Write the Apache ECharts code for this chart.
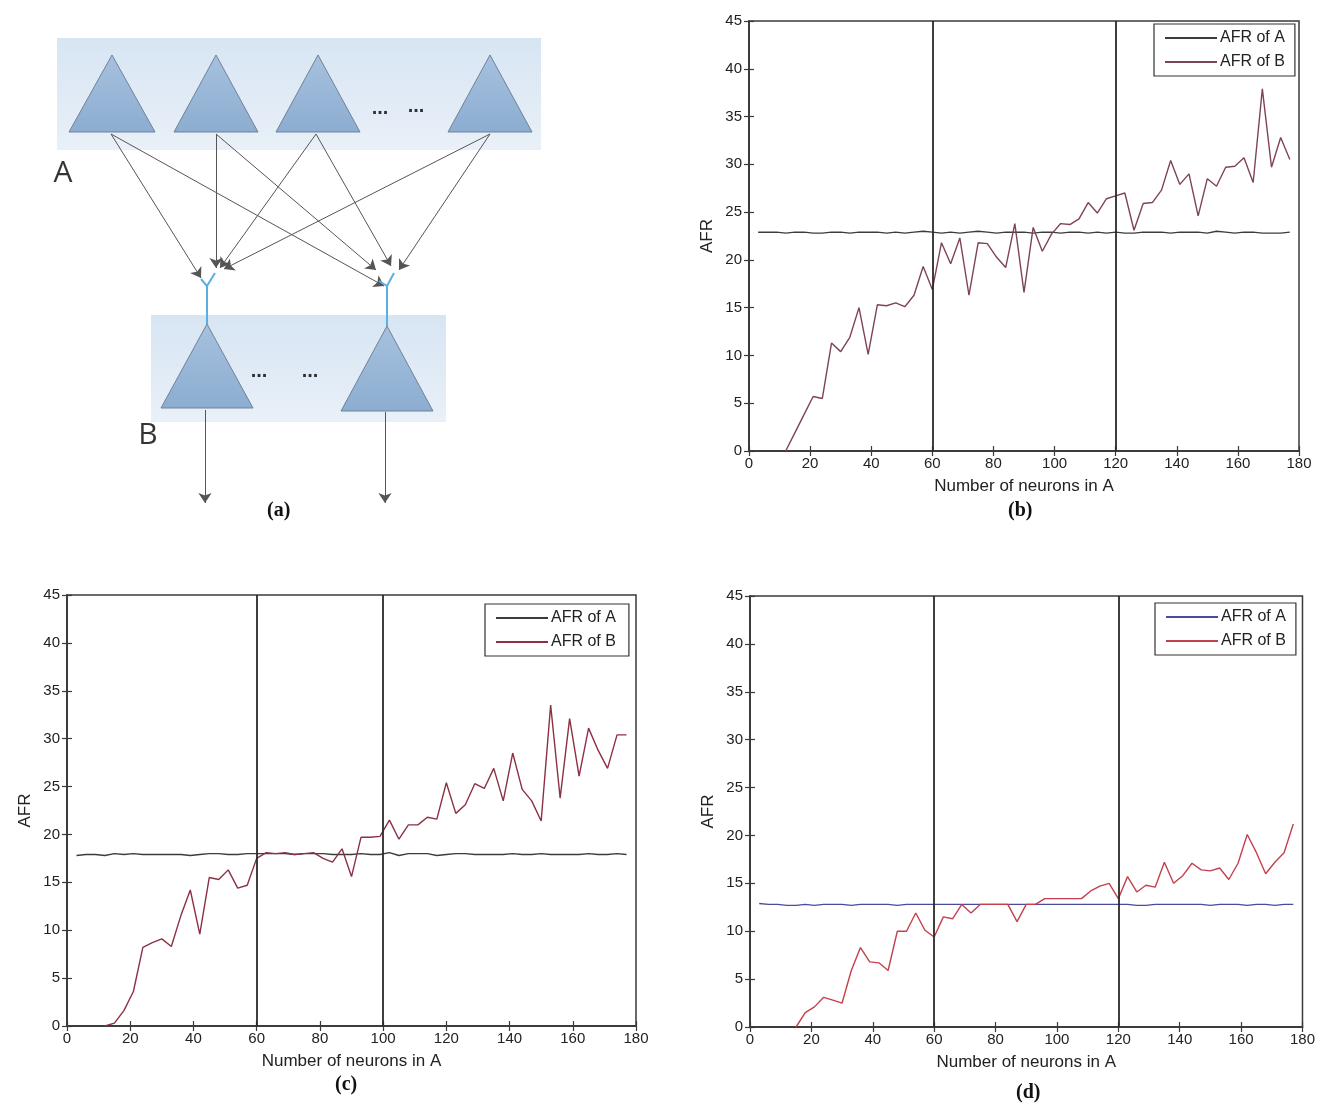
<!DOCTYPE html>
<html>
<head>
<meta charset="utf-8">
<title>AFR of layers A and B</title>
<script src="https://cdn.jsdelivr.net/npm/echarts@6/dist/echarts.min.js"></script>
<style>
  html, body { margin: 0; padding: 0; background: #ffffff; }
  #chart { width: 1318px; height: 1111px; }
</style>
</head>
<body>
<div id="chart"></div>
<script>
// Number of neurons in layer A (shared x values of panels b, c, d)
const neuronsA = [3,6,9,12,15,18,21,24,27,30,33,36,39,42,45,48,51,54,57,60,
  63,66,69,72,75,78,81,84,87,90,93,96,99,102,105,108,111,114,117,120,
  123,126,129,132,135,138,141,144,147,150,153,156,159,162,165,168,171,174,177];

// Panel (b)
const afrA_b = [22.9,22.9,22.9,22.8,22.9,22.9,22.8,22.8,22.9,22.9,22.8,22.9,22.9,22.9,22.8,22.9,22.8,22.9,23.0,22.9,
  22.8,22.9,22.8,22.9,23.0,22.9,22.8,22.9,22.9,22.9,22.8,22.9,22.9,22.8,22.9,22.9,22.8,22.9,22.8,22.9,
  22.8,22.8,22.9,22.9,22.9,22.8,22.9,22.9,22.9,22.8,23.0,22.9,22.8,22.9,22.9,22.8,22.8,22.8,22.9];
const afrB_b = [null,null,null,0,1.9,3.8,5.7,5.5,11.3,10.4,11.9,15.0,10.1,15.3,15.2,15.5,15.1,16.3,19.3,16.9,
  21.8,19.6,22.3,16.3,21.8,21.7,20.3,19.2,23.8,16.6,23.4,20.9,22.7,23.8,23.7,24.3,26.0,24.9,26.4,26.7,
  27.0,23.1,25.9,26.0,27.3,30.4,27.9,29.0,24.6,28.5,27.7,29.7,29.8,30.7,28.1,37.9,29.7,32.8,30.5];
const marks_b = [60, 120];

// Panel (c)
const afrA_c = [17.8,17.9,17.9,17.8,18.0,17.9,18.0,17.9,17.9,17.9,17.9,17.9,17.8,17.9,18.0,18.0,17.9,17.9,18.0,18.0,
  18.0,18.0,18.0,17.9,18.0,18.0,18.0,17.9,17.9,17.9,18.0,17.9,17.9,18.1,17.8,18.0,18.0,18.0,17.8,17.9,
  18.0,18.0,17.9,17.9,17.9,17.9,18.0,17.9,17.9,18.0,17.9,17.9,17.9,17.9,18.0,17.9,17.9,18.0,17.9];
const afrB_c = [null,null,null,0,0.3,1.6,3.6,8.2,8.7,9.1,8.3,11.5,14.2,9.6,15.5,15.3,16.3,14.4,14.7,17.5,
  18.1,18.0,18.1,17.9,18.0,18.1,17.5,17.1,18.5,15.6,19.7,19.7,19.8,21.5,19.5,21.0,21.0,21.8,21.6,25.4,
  22.2,23.1,25.3,24.8,26.9,23.5,28.5,24.7,23.5,21.4,33.5,23.8,32.1,26.1,31.1,28.8,26.9,30.4,30.4];
const marks_c = [60, 100];

// Panel (d)
const afrA_d = [12.9,12.8,12.8,12.7,12.7,12.8,12.7,12.8,12.8,12.8,12.7,12.8,12.8,12.8,12.8,12.7,12.8,12.8,12.8,12.8,
  12.8,12.8,12.8,12.8,12.8,12.8,12.8,12.8,12.8,12.8,12.8,12.8,12.8,12.8,12.8,12.8,12.8,12.8,12.8,12.8,
  12.8,12.7,12.7,12.8,12.8,12.8,12.8,12.8,12.8,12.7,12.8,12.8,12.8,12.7,12.8,12.8,12.7,12.8,12.8];
const afrB_d = [null,null,null,null,0,1.5,2.1,3.1,2.8,2.5,5.9,8.3,6.8,6.7,5.9,10.0,10.0,11.9,10.1,9.4,
  11.5,11.3,12.8,11.9,12.8,12.8,12.8,12.8,11.0,12.8,12.8,13.4,13.4,13.4,13.4,13.4,14.2,14.7,15.0,13.4,
  15.7,14.1,14.8,14.6,17.2,15.0,15.8,17.1,16.4,16.3,16.6,15.4,17.1,20.1,18.2,16.0,17.2,18.2,21.2];
const marks_d = [60, 120];

// Axis ticks
const xTickStep = 20, xMax = 180;
const yTickStep = 5, yMax = 45;

// Network sketch of panel (a), in sketch units
const layerBoxes = [[57, 38, 541, 150], [151, 315, 446, 422]];
// [apex x, apex y, half base width, base y]
const neuronsTop = [[112, 55, 43, 132], [216, 55, 42, 132], [318, 55, 42, 132], [490, 55, 42, 132]];
const neuronsBottom = [[207, 324, 46, 408], [387, 326, 46, 411]];
const synapses = [
  [[111, 134], [201, 278]], [[111, 134], [384, 286]],
  [[216, 134], [216, 268]], [[216, 134], [376, 270]],
  [[316, 134], [220, 268]], [[316, 134], [391, 266]],
  [[490, 134], [224, 269]], [[490, 134], [399, 270]]
];
const outputs = [[[205, 410], [205, 503]], [[385, 412], [385, 503]]];
const dendrites = [
  [[207, 324], [207, 286], [201, 279]], [[207, 286], [215, 273]],
  [[387, 326], [387, 286], [379, 281]], [[387, 286], [394, 273]]
];
const ellipses = [[380, 108], [416, 106], [259, 371], [310, 371]];
const layerNames = [['A', 63, 173], ['B', 148, 435]];

const FONT = "'Liberation Sans', Arial, sans-serif";
const AXIS_COLOR = '#3a3a3a';

const plotGrids = [
  { left: 749, top: 21, width: 550, height: 430 },
  { left: 67, top: 595, width: 569, height: 431 },
  { left: 750, top: 596, width: 554, height: 431 }
];

const grids = [{ left: 0, top: 0, width: 600, height: 540, show: false }];
plotGrids.forEach(g => grids.push(Object.assign({
  show: true, borderColor: AXIS_COLOR, borderWidth: 1.5, backgroundColor: '#ffffff'
}, g)));

const xAxes = [{ gridIndex: 0, type: 'value', min: 0, max: 600, show: false }];
const yAxes = [{ gridIndex: 0, type: 'value', min: 0, max: 540, inverse: true, show: false }];

const tickStyle = { show: true, inside: true, length: 5, lineStyle: { color: AXIS_COLOR, width: 1.2 } };

[1, 2, 3].forEach(gi => {
  xAxes.push({
    gridIndex: gi, type: 'value', min: 0, max: xMax, interval: xTickStep, position: 'bottom',
    name: 'Number of neurons in A', nameLocation: 'middle', nameGap: 27,
    nameTextStyle: { fontFamily: FONT, fontSize: 17, color: '#222' },
    axisLine: { show: true, lineStyle: { color: AXIS_COLOR, width: 1.5 } },
    axisTick: tickStyle,
    axisLabel: { fontFamily: FONT, fontSize: 15, color: '#222', margin: 5 },
    splitLine: { show: false }
  });
  xAxes.push({
    gridIndex: gi, type: 'value', min: 0, max: xMax, interval: xTickStep, position: 'top',
    axisLine: { show: true, lineStyle: { color: AXIS_COLOR, width: 1.5 } },
    axisTick: tickStyle, axisLabel: { show: false }, splitLine: { show: false }
  });
  yAxes.push({
    gridIndex: gi, type: 'value', min: 0, max: yMax, interval: yTickStep, position: 'left',
    name: 'AFR', nameLocation: 'middle', nameGap: 33, nameRotate: 90,
    nameTextStyle: { fontFamily: FONT, fontSize: 17, color: '#222' },
    axisLine: { show: true, lineStyle: { color: AXIS_COLOR, width: 1.5 } },
    axisTick: tickStyle,
    axisLabel: { fontFamily: FONT, fontSize: 15, color: '#222', margin: 7 },
    splitLine: { show: false }
  });
  yAxes.push({
    gridIndex: gi, type: 'value', min: 0, max: yMax, interval: yTickStep, position: 'right',
    axisLine: { show: true, lineStyle: { color: AXIS_COLOR, width: 1.5 } },
    axisTick: tickStyle, axisLabel: { show: false }, splitLine: { show: false }
  });
});

const pair = vals => neuronsA.map((x, i) => [x, vals[i]]);

function curve(name, vals, axis, color, z) {
  return {
    type: 'line', name, data: pair(vals), xAxisIndex: axis, yAxisIndex: axis,
    symbol: 'none', showSymbol: false, connectNulls: false, z,
    lineStyle: { color, width: 1.4 }, itemStyle: { color }, silent: true
  };
}
function dividers(vals, axis) {
  return {
    type: 'line', data: [], xAxisIndex: axis, yAxisIndex: axis, silent: true,
    markLine: {
      silent: true, symbol: ['none', 'none'], label: { show: false }, animation: false,
      lineStyle: { color: '#2a2a2a', width: 1.8, type: 'solid' },
      data: vals.map(v => ({ xAxis: v }))
    }
  };
}

const panels = [
  { axis: 1, a: afrA_b, b: afrB_b, marks: marks_b, colA: '#3c3c3c', colB: '#7e4456' },
  { axis: 3, a: afrA_c, b: afrB_c, marks: marks_c, colA: '#3c3c3c', colB: '#8c3044' },
  { axis: 5, a: afrA_d, b: afrB_d, marks: marks_d, colA: '#4a4aa0', colB: '#c4404c' }
];

const series = [];

// ---- panel (a): the network sketch ----
series.push({
  type: 'custom', xAxisIndex: 0, yAxisIndex: 0, silent: true, z: 1,
  data: layerBoxes,
  renderItem(params, api) {
    const p0 = api.coord([api.value(0), api.value(1)]);
    const p1 = api.coord([api.value(2), api.value(3)]);
    return {
      type: 'rect',
      shape: { x: p0[0], y: p0[1], width: p1[0] - p0[0], height: p1[1] - p0[1] },
      style: {
        fill: new echarts.graphic.LinearGradient(0, 0, 0, 1, [
          { offset: 0, color: '#d7e5f3' }, { offset: 1, color: '#e9f0f8' }
        ])
      }
    };
  }
});
series.push({
  type: 'custom', xAxisIndex: 0, yAxisIndex: 0, silent: true, z: 3,
  data: neuronsTop.concat(neuronsBottom),
  renderItem(params, api) {
    const ax = api.value(0), ay = api.value(1), hw = api.value(2), by = api.value(3);
    const pts = [api.coord([ax, ay]), api.coord([ax - hw, by]), api.coord([ax + hw, by])];
    return {
      type: 'polygon', shape: { points: pts },
      style: {
        fill: new echarts.graphic.LinearGradient(0, 0, 0, 1, [
          { offset: 0, color: '#a6c1de' }, { offset: 1, color: '#8cadd1' }
        ]),
        stroke: '#6f8299', lineWidth: 1
      }
    };
  }
});
series.push({
  type: 'lines', coordinateSystem: 'cartesian2d', xAxisIndex: 0, yAxisIndex: 0,
  silent: true, z: 4, symbol: ['none', 'arrow'], symbolSize: 10,
  lineStyle: { color: '#555555', width: 1, opacity: 1 },
  data: synapses.concat(outputs).map(c => ({ coords: c }))
});
series.push({
  type: 'lines', coordinateSystem: 'cartesian2d', xAxisIndex: 0, yAxisIndex: 0, polyline: true,
  silent: true, z: 4, symbol: 'none',
  lineStyle: { color: '#5aaee2', width: 2, opacity: 1 },
  data: dendrites.map(c => ({ coords: c }))
});
series.push({
  type: 'scatter', xAxisIndex: 0, yAxisIndex: 0, silent: true, z: 5, symbolSize: 0,
  data: ellipses,
  label: { show: true, position: 'inside', formatter: '...', fontFamily: FONT, fontSize: 20,
    fontWeight: 'bold', color: '#000' }
});
series.push({
  type: 'scatter', xAxisIndex: 0, yAxisIndex: 0, silent: true, z: 5, symbolSize: 0,
  data: layerNames.map(n => ({ name: n[0], value: [n[1], n[2]] })),
  label: { show: true, position: 'inside', formatter: p => p.name,
    fontFamily: "'Open Sans', 'DejaVu Sans', sans-serif", fontSize: 30, color: '#000' }
});

// ---- panels (b), (c), (d) ----
panels.forEach(p => {
  series.push(curve('AFR of A', p.a, p.axis, p.colA, 3));
  series.push(curve('AFR of B', p.b, p.axis, p.colB, 4));
  series.push(dividers(p.marks, p.axis));
});

const legendBase = {
  orient: 'vertical', backgroundColor: '#ffffff', borderColor: '#333', borderWidth: 1.2,
  itemWidth: 52, itemHeight: 2, itemGap: 8, selectedMode: false,
  textStyle: { fontFamily: FONT, fontSize: 16, color: '#222', padding: [0, 0, 0, -2] }
};
const legendPos = [
  { left: 1154, top: 24, padding: [6, 10, 6, 11] },
  { left: 485, top: 604, padding: [6, 13, 6, 11] },
  { left: 1155, top: 603, padding: [6, 10, 6, 11] }
];
const legends = panels.map((p, i) => Object.assign({}, legendBase, legendPos[i], {
  z: 10,
  data: [
    { name: 'AFR of A', icon: 'rect', itemStyle: { color: p.colA } },
    { name: 'AFR of B', icon: 'rect', itemStyle: { color: p.colB } }
  ]
}));

const panelTag = (text, left, top) => ({
  text, left, top,
  textStyle: { fontFamily: "'Liberation Serif', 'Times New Roman', serif", fontSize: 20,
    fontWeight: 'bold', color: '#111' }
});

const chart = echarts.init(document.getElementById('chart'), null, { renderer: 'canvas' });
chart.setOption({
  animation: false,
  backgroundColor: '#ffffff',
  title: [
    panelTag('(a)', 262, 496),
    panelTag('(b)', 1003, 496),
    panelTag('(c)', 330, 1070),
    panelTag('(d)', 1011, 1078)
  ],
  grid: grids,
  xAxis: xAxes,
  yAxis: yAxes,
  legend: legends,
  series
});
</script>
</body>
</html>
